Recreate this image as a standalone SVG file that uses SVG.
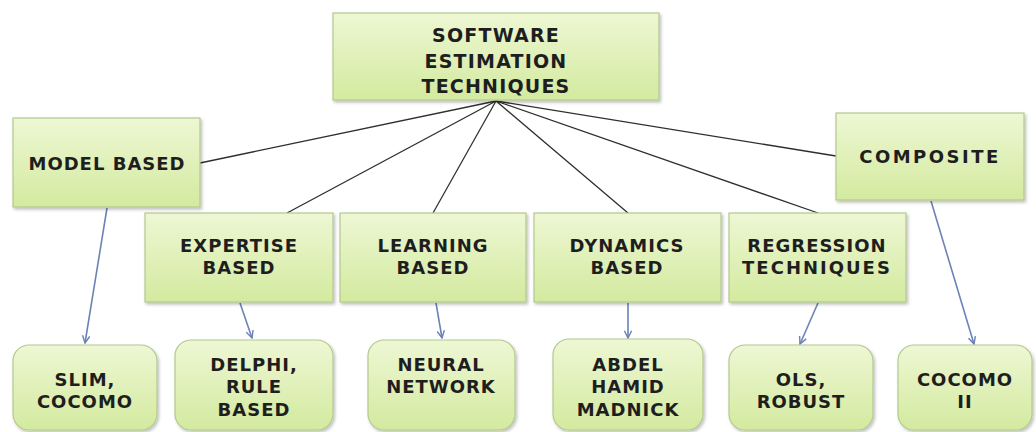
<svg xmlns="http://www.w3.org/2000/svg" width="1036" height="432" viewBox="0 0 1036 432">
<defs>
<linearGradient id="g" x1="0" y1="0" x2="0" y2="1">
<stop offset="0" stop-color="#eef7d4"/>
<stop offset="1" stop-color="#d3ea9f"/>
</linearGradient>
<filter id="sh" x="-10%" y="-10%" width="125%" height="130%">
<feDropShadow dx="1.5" dy="2" stdDeviation="1.5" flood-color="#000" flood-opacity="0.25"/>
</filter>
<marker id="ah" viewBox="0 0 10 10" refX="9" refY="5" markerWidth="9" markerHeight="9" markerUnits="userSpaceOnUse" orient="auto">
<path d="M1,1 L9,5 L1,9" fill="none" stroke="#6d82b5" stroke-width="1.6"/>
</marker>
<style>
.box{fill:url(#g);stroke:#b3c98e;stroke-width:1.2;filter:url(#sh)}
.t{font-family:"DejaVu Sans",sans-serif;font-weight:bold;font-size:18px;fill:#1e1e1e;text-anchor:middle;letter-spacing:1px}
.tt{font-size:19px;letter-spacing:1.2px}
.ln{stroke:#2e2e2e;stroke-width:1.3;fill:none}
.ar{stroke:#6d82b5;stroke-width:1.6;fill:none;marker-end:url(#ah)}
</style>
</defs>
<rect width="1036" height="432" fill="#ffffff"/>
<g id="connectors">
<line class="ln" x1="496" y1="101" x2="200" y2="163"/>
<line class="ln" x1="496" y1="101" x2="287" y2="213"/>
<line class="ln" x1="496" y1="101" x2="433" y2="213"/>
<line class="ln" x1="496" y1="101" x2="628" y2="213"/>
<line class="ln" x1="496" y1="101" x2="818" y2="213"/>
<line class="ln" x1="496" y1="101" x2="836" y2="156"/>
<line class="ar" x1="107" y1="208" x2="85" y2="343"/>
<line class="ar" x1="240" y1="303" x2="252" y2="338"/>
<line class="ar" x1="436" y1="303" x2="442" y2="338"/>
<line class="ar" x1="628" y1="303" x2="628" y2="338"/>
<line class="ar" x1="818" y1="303" x2="800" y2="344"/>
<line class="ar" x1="931" y1="201" x2="974" y2="344"/>
</g>
<g id="n-root"><rect class="box" x="333" y="13" width="326" height="87"/>
<text class="t tt" x="496" y="42">SOFTWARE</text><text class="t tt" x="496" y="68">ESTIMATION</text><text class="t tt" x="496" y="93">TECHNIQUES</text></g>
<g id="n-model"><rect class="box" x="13" y="118" width="187" height="89"/>
<text class="t" x="107" y="170">MODEL BASED</text></g>
<g id="n-composite"><rect class="box" x="836" y="113" width="188" height="87"/>
<text class="t" x="930" y="163" style="letter-spacing:2.5px">COMPOSITE</text></g>
<g id="n-expertise"><rect class="box" x="145" y="213" width="188" height="89"/>
<text class="t" x="239" y="252">EXPERTISE</text><text class="t" x="239" y="274">BASED</text></g>
<g id="n-learning"><rect class="box" x="340" y="213" width="186" height="89"/>
<text class="t" x="433" y="252">LEARNING</text><text class="t" x="433" y="274">BASED</text></g>
<g id="n-dynamics"><rect class="box" x="534" y="213" width="187" height="89"/>
<text class="t" x="627" y="252">DYNAMICS</text><text class="t" x="627" y="274">BASED</text></g>
<g id="n-regression"><rect class="box" x="729" y="213" width="177" height="89"/>
<text class="t" x="817" y="252">REGRESSION</text><text class="t" x="817" y="274" style="letter-spacing:2px">TECHNIQUES</text></g>
<g id="n-slim"><rect class="box" x="13" y="345" width="144" height="85" rx="16"/>
<text class="t" x="85" y="386">SLIM,</text><text class="t" x="85" y="408">COCOMO</text></g>
<g id="n-delphi"><rect class="box" x="175" y="340" width="158" height="90" rx="16"/>
<text class="t" x="254" y="371">DELPHI,</text><text class="t" x="254" y="393">RULE</text><text class="t" x="254" y="416">BASED</text></g>
<g id="n-neural"><rect class="box" x="368" y="340" width="147" height="90" rx="16"/>
<text class="t" x="441" y="371">NEURAL</text><text class="t" x="441" y="393">NETWORK</text></g>
<g id="n-abdel"><rect class="box" x="553" y="339" width="150" height="91" rx="16"/>
<text class="t" x="628" y="371">ABDEL</text><text class="t" x="628" y="393">HAMID</text><text class="t" x="628" y="416">MADNICK</text></g>
<g id="n-ols"><rect class="box" x="729" y="345" width="144" height="85" rx="16"/>
<text class="t" x="801" y="386">OLS,</text><text class="t" x="801" y="408">ROBUST</text></g>
<g id="n-cocomo2"><rect class="box" x="898" y="345" width="134" height="85" rx="16"/>
<text class="t" x="965" y="386">COCOMO</text><text class="t" x="965" y="408">II</text></g>
</svg>
